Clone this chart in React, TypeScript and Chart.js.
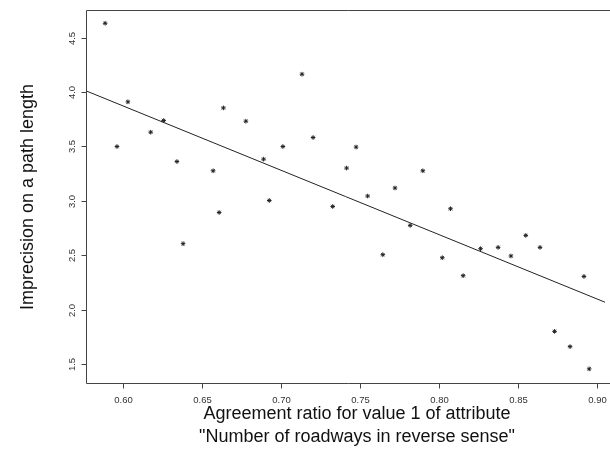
import React, { useEffect, useRef } from "react";
import { Chart, registerables } from "chart.js";

Chart.register(...registerables);

const ratioX = [
  0.5887, 0.5962, 0.6031, 0.6175, 0.6257, 0.6341, 0.638, 0.657, 0.6608, 0.6635,
  0.6777, 0.6889, 0.6925, 0.7011, 0.7132, 0.7202, 0.7326, 0.7414, 0.7474, 0.7547,
  0.7643, 0.772, 0.7816, 0.7896, 0.8019, 0.8071, 0.8151, 0.8261, 0.8372, 0.8453,
  0.8547, 0.8637, 0.8729, 0.8827, 0.8915, 0.8948,
];
const imprecisionY = [
  4.632, 3.499, 3.91, 3.631, 3.738, 3.361, 2.606, 3.276, 2.893, 3.854,
  3.732, 3.383, 3.003, 3.499, 4.164, 3.582, 2.948, 3.301, 3.494, 3.044,
  2.505, 3.118, 2.774, 3.276, 2.477, 2.927, 2.312, 2.56, 2.572, 2.493,
  2.682, 2.572, 1.8, 1.66, 2.305, 1.455,
];
const fitX = [0.5766, 0.9048];
const fitY = [4.011, 2.068];

const xTicks = [0.6, 0.65, 0.7, 0.75, 0.8, 0.85, 0.9];
const xTickLabels = ["0.60", "0.65", "0.70", "0.75", "0.80", "0.85", "0.90"];
const yTicks = [1.5, 2.0, 2.5, 3.0, 3.5, 4.0, 4.5];
const yTickLabels = ["1.5", "2.0", "2.5", "3.0", "3.5", "4.0", "4.5"];

const xTitle1 = "Agreement ratio for value 1 of attribute";
const xTitle2 = "\"Number of roadways in reverse sense\"";
const yTitle = "Imprecision on a path length";

const X_MIN = 0.5766;
const X_MAX = 0.9048;
const Y_MIN = 1.3255;
const Y_MAX = 4.754;

const axesPlugin = {
  id: "rAxes",
  afterDraw(chart: any) {
    const ctx = chart.ctx;
    const area = chart.chartArea;
    const xs = chart.scales.x;
    const ys = chart.scales.y;
    ctx.save();
    ctx.strokeStyle = "#444";
    ctx.lineWidth = 1;
    const l = Math.round(area.left) + 0.5;
    const t = Math.round(area.top) + 0.5;
    const b = Math.round(area.bottom) + 0.5;
    ctx.beginPath();
    ctx.moveTo(area.right + 20, t);
    ctx.lineTo(l, t);
    ctx.lineTo(l, b);
    ctx.lineTo(area.right + 20, b);
    ctx.stroke();

    // x ticks
    ctx.fillStyle = "#333";
    ctx.font = "9.5px 'Liberation Sans', Arial, sans-serif";
    ctx.textAlign = "center";
    ctx.textBaseline = "middle";
    xTicks.forEach((v, i) => {
      const px = Math.round(xs.getPixelForValue(v)) + 0.5;
      ctx.beginPath();
      ctx.moveTo(px, b);
      ctx.lineTo(px, b + 5);
      ctx.stroke();
      ctx.fillText(xTickLabels[i], px, 400);
    });
    // y ticks
    yTicks.forEach((v, i) => {
      const py = Math.round(ys.getPixelForValue(v)) + 0.5;
      ctx.beginPath();
      ctx.moveTo(l, py);
      ctx.lineTo(l - 5, py);
      ctx.stroke();
      ctx.save();
      ctx.translate(72.5, py);
      ctx.rotate(-Math.PI / 2);
      ctx.fillText(yTickLabels[i], 0, 0);
      ctx.restore();
    });

    // titles
    ctx.fillStyle = "#111";
    ctx.font = "18px 'Liberation Sans', Arial, sans-serif";
    ctx.fillText(xTitle1, 357, 414);
    ctx.fillText(xTitle2, 357, 437);
    ctx.save();
    ctx.translate(28, 197);
    ctx.rotate(-Math.PI / 2);
    ctx.fillText(yTitle, 0, 0);
    ctx.restore();
    ctx.restore();
  },
};

export default function App() {
  const ref = useRef<HTMLCanvasElement | null>(null);
  useEffect(() => {
    if (!ref.current) return;
    const chart = new Chart(ref.current, {
      type: "scatter",
      data: {
        datasets: [
          {
            type: "line",
            label: "fit",
            data: fitX.map((x, i) => ({ x, y: fitY[i] })),
            borderColor: "#222",
            borderWidth: 1,
            pointRadius: 0,
            fill: false,
          } as any,
          {
            label: "points",
            data: ratioX.map((x, i) => ({ x, y: imprecisionY[i] })),
            pointStyle: "star",
            pointRadius: 2.3,
            borderColor: "#222",
            backgroundColor: "#222",
            pointBorderWidth: 1,
            showLine: false,
          } as any,
        ],
      },
      options: {
        responsive: false,
        animation: false,
        devicePixelRatio: 1,
        layout: { padding: { left: 86, top: 10, right: 0, bottom: 67 } },
        plugins: {
          legend: { display: false },
          tooltip: { enabled: false },
        },
        scales: {
          x: { type: "linear", min: X_MIN, max: X_MAX, display: false },
          y: { type: "linear", min: Y_MIN, max: Y_MAX, display: false },
        },
      },
      plugins: [axesPlugin],
    });
    return () => chart.destroy();
  }, []);
  return (
    <div
      style={{
        position: "absolute",
        left: 0,
        top: 0,
        width: 610,
        height: 450,
        background: "#fff",
      }}
    >
      <canvas ref={ref} width={610} height={450} style={{ width: 610, height: 450 }} />
    </div>
  );
}
